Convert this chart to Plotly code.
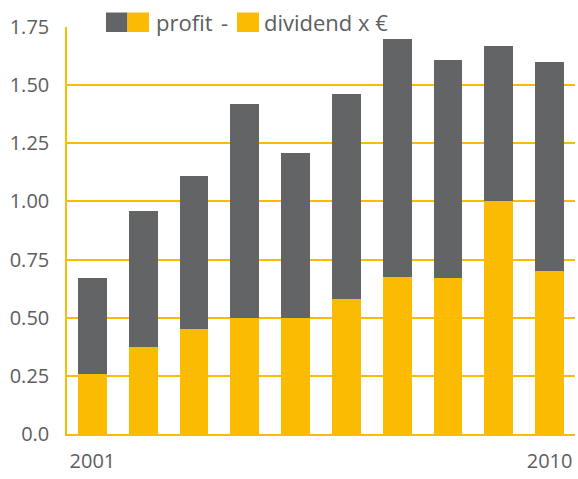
import plotly.graph_objects as go

years = ["2001", "2002", "2003", "2004", "2005", "2006", "2007", "2008", "2009", "2010"]
dividend = [0.26, 0.375, 0.45, 0.50, 0.50, 0.58, 0.675, 0.67, 1.00, 0.70]
profit_total = [0.67, 0.96, 1.11, 1.42, 1.21, 1.46, 1.70, 1.61, 1.67, 1.60]
profit_rest = [round(p - d, 3) for p, d in zip(profit_total, dividend)]

y_tickvals = [0, 0.25, 0.5, 0.75, 1.0, 1.25, 1.5, 1.75]
y_ticktext = ["0.0", "0.25", "0.50", "0.75", "1.00", "1.25", "1.50", "1.75"]
x_tickvals = [years[0], years[-1]]

YELLOW = "#FABB00"
GREY = "#636466"
TEXT = "#5d5e60"
FONT = "Open Sans"

W, H = 578, 479
ML, MR, MT, MB = 67, 3, 27, 45
PW = W - ML - MR
PH = H - MT - MB


def px_x(p):
    return (p - ML) / PW


def px_y(p):
    return (H - MB - p) / PH


fig = go.Figure()
fig.add_trace(go.Bar(x=years, y=dividend, marker_color=YELLOW, marker_line_width=0,
                     name="dividend x €", showlegend=False))
fig.add_trace(go.Bar(x=years, y=profit_rest, marker_color=GREY, marker_line_width=0,
                     name="profit", showlegend=False))

shapes = []
# legend swatches
for x0, x1, c in [(106, 127.5, GREY), (127.5, 149, YELLOW), (237, 259, YELLOW)]:
    shapes.append(dict(type="rect", xref="paper", yref="paper",
                       x0=px_x(x0), x1=px_x(x1), y0=px_y(32), y1=px_y(12.5),
                       fillcolor=c, line_width=0, layer="above"))

annotations = []
for x, t in [(154, "profit"), (219, "-"), (262, "dividend x €")]:
    annotations.append(dict(text=t, x=px_x(x), y=px_y(22.5), xref="paper", yref="paper",
                            xanchor="left", yanchor="middle", showarrow=False,
                            font=dict(family=FONT, size=22, color=TEXT)))

fig.update_layout(
    width=W, height=H,
    margin=dict(l=ML, r=MR, t=MT, b=MB, autoexpand=False),
    paper_bgcolor="white", plot_bgcolor="white",
    barmode="stack", bargap=0.43,
    shapes=shapes, annotations=annotations,
    showlegend=False,
    font=dict(family=FONT, size=20, color=TEXT),
    xaxis=dict(tickmode="array", tickvals=x_tickvals, ticktext=x_tickvals, automargin=False,
               showline=True, linecolor=YELLOW, linewidth=1.5, showgrid=False,
               ticks="", ticklabelstandoff=8, tickfont=dict(size=20, color=TEXT)),
    yaxis=dict(range=[0, 1.75], tickmode="array", tickvals=y_tickvals, ticktext=y_ticktext,
               automargin=False,
               showline=True, linecolor=YELLOW, linewidth=1.5,
               showgrid=True, gridcolor=YELLOW, gridwidth=1.5, zeroline=False,
               ticks="", ticklabelstandoff=12, tickfont=dict(size=20, color=TEXT)),
)

fig.write_html("out.html", config={"displayModeBar": False},
               post_script="document.body.style.margin='0';document.body.style.overflow='hidden';")
